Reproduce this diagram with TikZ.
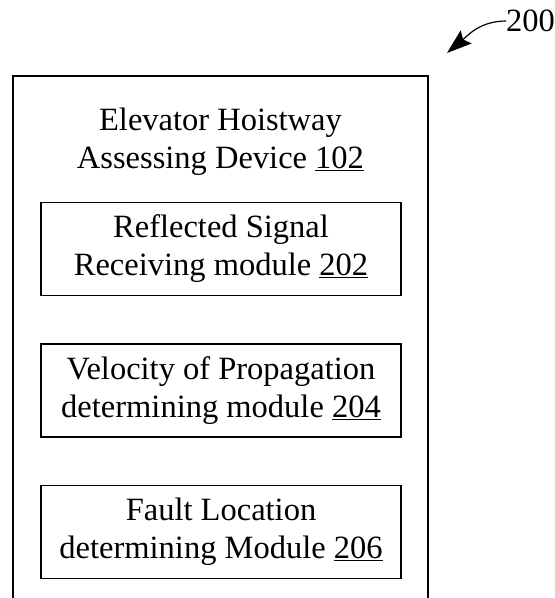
\documentclass[tikz,border=0pt]{standalone}
\usepackage{fontspec}
\setmainfont{Liberation Serif}
\usetikzlibrary{positioning,arrows.meta}

\tikzset{
  bigfont/.style={font=\fontsize{32.5}{38}\selectfont},
  modbox/.style={draw, line width=1.5pt, minimum width=360pt, minimum height=93pt, align=center, bigfont}
}

\begin{document}
\begin{tikzpicture}[x=1pt,y=-1pt]
  \useasboundingbox (0,0) rectangle (555,598);
  % device frame, open at the bottom
  \draw[line width=1.5pt] (13,598) -- (13,76) -- (428,76) -- (428,598);
  \node[align=center, bigfont] (dev) at (220.5,142) {Elevator Hoistway\\Assessing Device \underline{102}};
  \node[modbox] (rs) at (221,249) {Reflected Signal\\Receiving module \underline{202}};
  \node[modbox, below=47pt of rs] (vp) {Velocity of Propagation\\determining module \underline{204}};
  \node[modbox, below=47pt of vp] (fl) {Fault Location\\determining Module \underline{206}};
  % reference numeral
  \node[bigfont, inner sep=0pt, anchor=west] (ref) at (506,21) {200};
  \coordinate (tip) at (447,53);
  \draw[line width=1.2pt, -{Stealth[length=25pt,width=17pt,inset=4pt]}] (ref.west) to[out=180, in=40] (tip);
\end{tikzpicture}
\end{document}
